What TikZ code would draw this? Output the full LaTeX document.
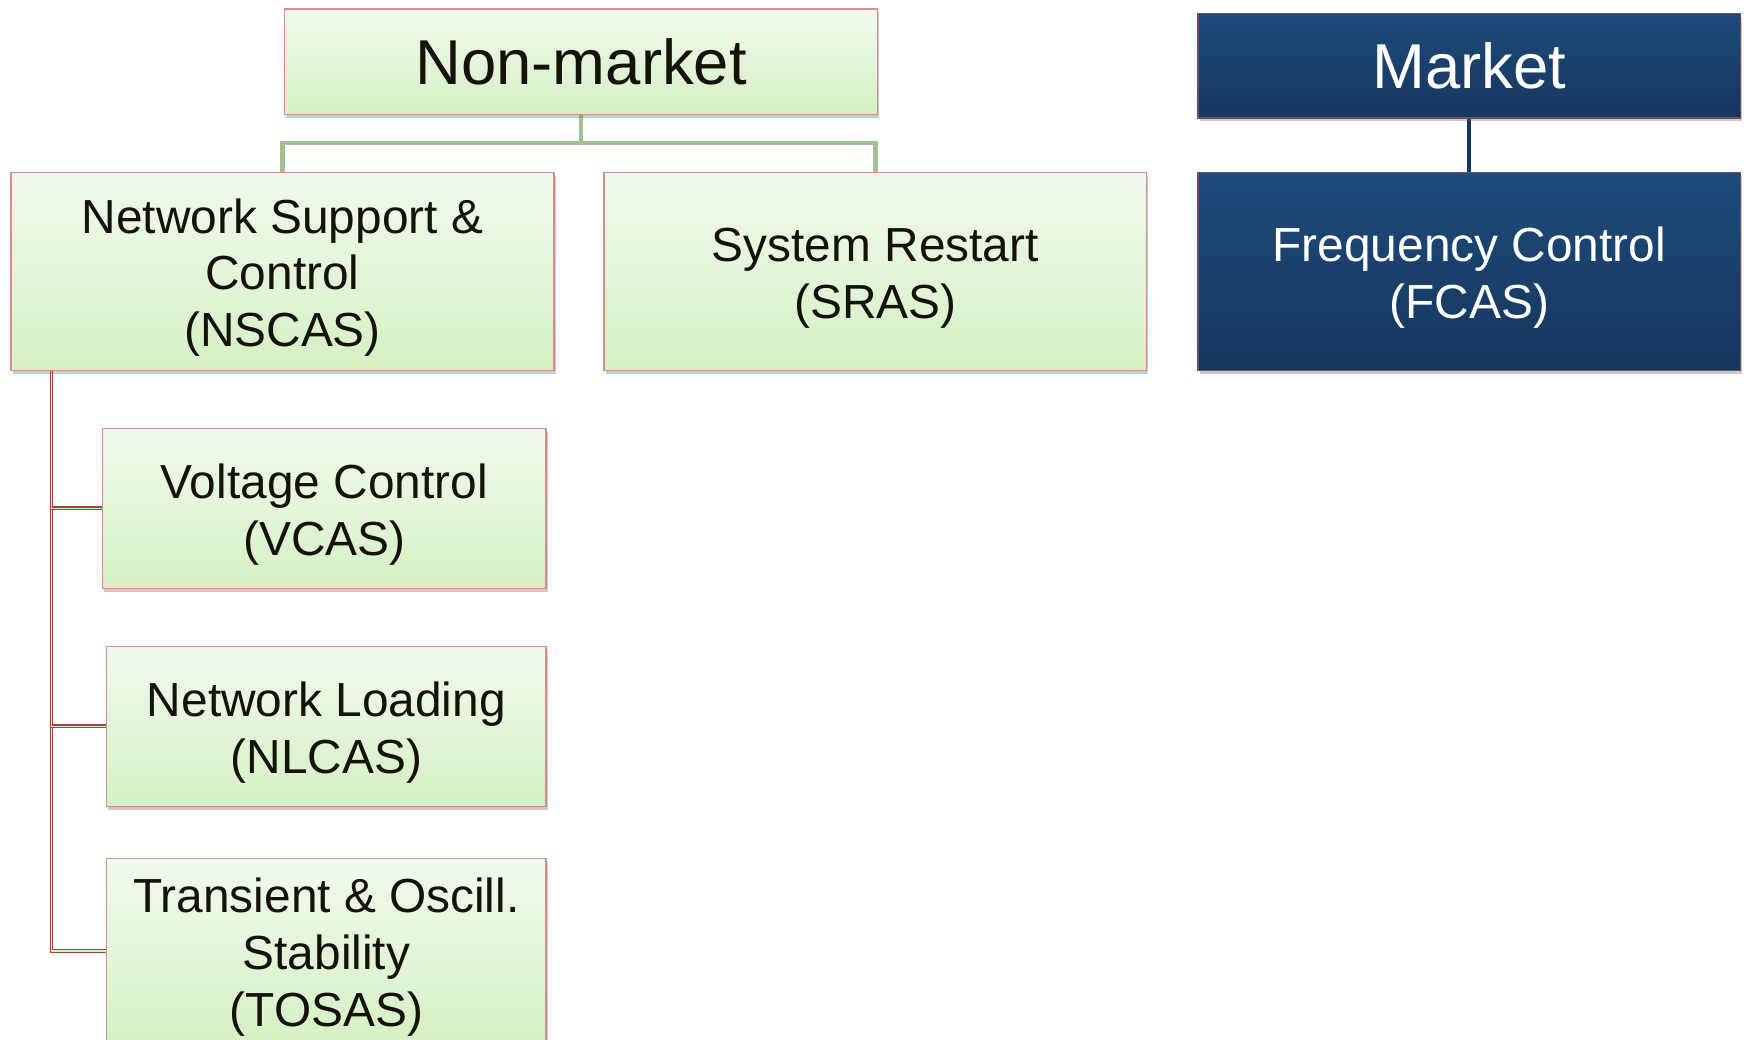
\documentclass[tikz,border=0pt]{standalone}
\usepackage{fontspec}
\setmainfont{Liberation Sans}
\usetikzlibrary{shadows,backgrounds}
\definecolor{gtop}{HTML}{F1FAEE}
\definecolor{gbot}{HTML}{D5F1C4}
\definecolor{redline}{HTML}{C0504D}
\definecolor{gline}{HTML}{A3C293}
\definecolor{ntop}{HTML}{1E4B7B}
\definecolor{nbot}{HTML}{15365D}
\definecolor{txt}{HTML}{15120A}
\newcommand\tallstrut{\rule{0pt}{42pt}}
\tikzset{
 base/.style={rectangle, inner sep=0pt, align=center, font=\fontsize{43}{51}\selectfont, line width=1.3pt, drop shadow={shadow xshift=1.5pt, shadow yshift=-3pt, opacity=0.35, fill=black!60}},
 gbox/.style={base, draw=redline!65, top color=gtop, bottom color=gbot, text=txt},
 nbox/.style={base, draw=redline!50!ntop, top color=ntop, bottom color=nbot, text=white},
 gconn/.style={draw=gline, line width=4pt},
 nconn/.style={draw=nbot, line width=3.5pt},
 rconn/.style={draw=redline!85!black, double=gbot, double distance=1.3pt, line width=1.1pt},
}
\begin{document}
\begin{tikzpicture}[x=1pt,y=-1pt]
\useasboundingbox (0,0) rectangle (1568,935);
\clip (0,0) rectangle (1568,935);
\node[gbox, minimum width=533pt, minimum height=95pt, font=\fontsize{57}{60}\selectfont] (nm) at (522.5,55.5) {Non-market};
\node[nbox, minimum width=488pt, minimum height=94pt, font=\fontsize{57}{60}\selectfont] (mk) at (1321,59) {Market};
\node[gbox, minimum width=488pt, minimum height=178pt] (nscas) at (254,244) {\tallstrut Network Support \&\\Control\\(NSCAS)};
\node[gbox, minimum width=488pt, minimum height=178pt] (sras) at (787,244) {\tallstrut System Restart\\(SRAS)};
\node[nbox, minimum width=488pt, minimum height=178pt] (fcas) at (1321,244) {\tallstrut Frequency Control\\(FCAS)};
\node[gbox, minimum width=399pt, minimum height=144pt] (vcas) at (291.5,457) {\tallstrut Voltage Control\\(VCAS)};
\node[gbox, minimum width=395pt, minimum height=144pt] (nlcas) at (293.5,653) {\tallstrut Network Loading\\(NLCAS)};
\node[gbox, minimum width=395pt, minimum height=166pt] (tosas) at (293.5,855) {\tallstrut Transient \& Oscill.\\Stability\\(TOSAS)};
\begin{scope}[on background layer]
\draw[gconn] (nm.south) -- ++(0,25) coordinate (gj) -| (nscas.north);
\draw[gconn] (gj) -| (sras.north);
\draw[nconn] (mk.south) -- (fcas.north);
\coordinate (rtop) at ([xshift=37pt]nscas.south west);
\draw[rconn] (rtop) |- (tosas.west);
\draw[rconn] (rtop) |- (nlcas.west);
\draw[rconn] (rtop) |- (vcas.west);
\end{scope}
\end{tikzpicture}
\end{document}
